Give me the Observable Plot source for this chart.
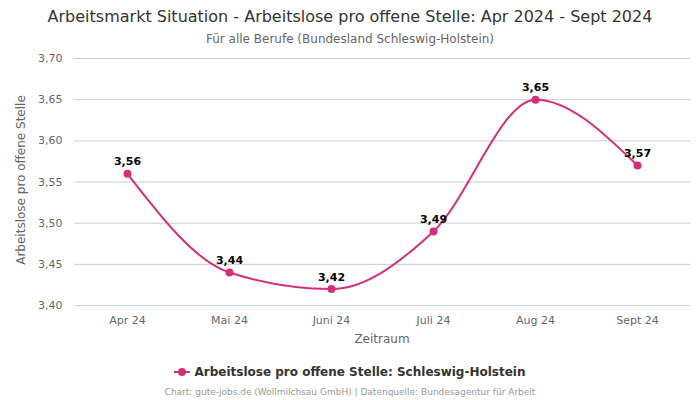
<!DOCTYPE html>
<html>
<head>
<meta charset="utf-8">
<script src="https://cdn.jsdelivr.net/npm/d3@7"></script>
<script src="https://cdn.jsdelivr.net/npm/@observablehq/plot@0.6"></script>
<style>
  html, body { margin: 0; padding: 0; background: #fff; }
  body { width: 700px; height: 400px; position: relative; font-family: "DejaVu Sans", sans-serif; overflow: hidden; }
  #title { position: absolute; top: 7px; left: 0; width: 700px; text-align: center; font-size: 16px; color: #333; }
  #subtitle { position: absolute; top: 32px; left: 0; width: 700px; text-align: center; font-size: 12px; color: #666; }
  #chart { position: absolute; top: 50px; left: 0; }
  #xlabel { position: absolute; top: 332px; left: 74px; width: 616px; text-align: center; font-size: 12px; color: #666; }
  #ylabel { position: absolute; top: 181px; left: 21px; width: 300px; margin-left: -150px; margin-top: -8px; text-align: center; font-size: 12px; color: #666; transform: rotate(-90deg); white-space: nowrap; }
  #legend { position: absolute; top: 365px; left: 0; width: 700px; text-align: center; font-size: 12px; font-weight: bold; color: #333; }
  #legend svg { vertical-align: middle; margin-right: 4px; position: relative; top: -1px; }
  #caption { position: absolute; top: 387px; left: 0; width: 700px; text-align: center; font-size: 9px; color: #999; }
</style>
</head>
<body>
<div id="title">Arbeitsmarkt Situation - Arbeitslose pro offene Stelle: Apr 2024 - Sept 2024</div>
<div id="subtitle">Für alle Berufe (Bundesland Schleswig-Holstein)</div>
<div id="chart"></div>
<div id="xlabel">Zeitraum</div>
<div id="ylabel">Arbeitslose pro offene Stelle</div>
<div id="legend"><svg width="16" height="10"><line x1="0" y1="5" x2="16" y2="5" stroke="#d42f7a" stroke-width="2"/><circle cx="8" cy="5" r="4" fill="#d42f7a"/></svg>Arbeitslose pro offene Stelle: Schleswig-Holstein</div>
<div id="caption">Chart: gute-jobs.de (Wollmilchsau GmbH) | Datenquelle: Bundesagentur für Arbeit</div>
<script>
const months = ["Apr 24", "Mai 24", "Juni 24", "Juli 24", "Aug 24", "Sept 24"];
const values = [3.56, 3.44, 3.42, 3.49, 3.65, 3.57];
const yTicks = [3.40, 3.45, 3.50, 3.55, 3.60, 3.65, 3.70];

const data = months.map((m, i) => ({month: m, value: values[i]}));
const fmt = v => v.toFixed(2).replace(".", ",");
const color = "#d42f7a";

const chart = Plot.plot({
  width: 700,
  height: 300,
  marginLeft: 74,
  marginRight: 10,
  marginTop: 8,
  marginBottom: 45,
  style: {fontFamily: "DejaVu Sans, sans-serif", fontSize: "11px", color: "#666", background: "transparent"},
  x: {type: "point", domain: months, padding: 0.5, label: null},
  y: {domain: [3.40, 3.70], label: null},
  marks: [
    Plot.gridY(yTicks, {stroke: "#ccc", strokeOpacity: 1, strokeWidth: 1}),
    Plot.ruleY([3.40], {stroke: "#ccd6eb", strokeWidth: 1}),
    Plot.axisY(yTicks, {tickFormat: fmt, tickSize: 0, tickPadding: 12, fill: "#666", fontSize: 11, label: null}),
    Plot.axisX({tickSize: 0, tickPadding: 11, fill: "#666", fontSize: 11, label: null}),
    Plot.line(data, {x: "month", y: "value", stroke: color, strokeWidth: 2, curve: "monotone-x"}),
    Plot.dot(data, {x: "month", y: "value", fill: color, r: 4}),
    Plot.text(data, {x: "month", y: "value", text: d => fmt(d.value), dy: -12, fontWeight: "bold", fill: "#000", fontSize: 11})
  ]
});
document.getElementById("chart").appendChild(chart);
</script>
</body>
</html>
